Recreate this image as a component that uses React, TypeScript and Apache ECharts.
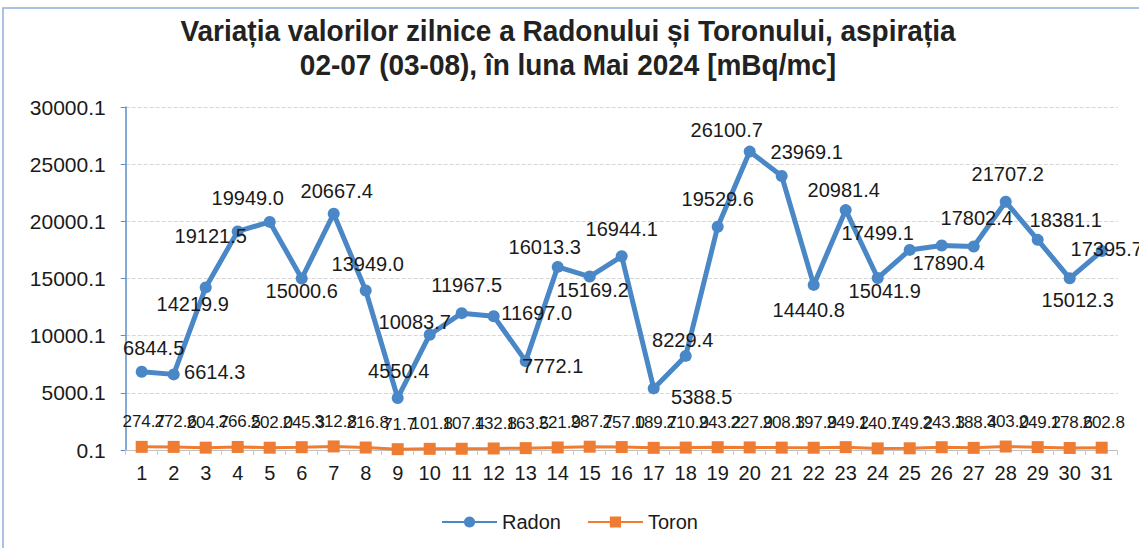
import React, { useEffect, useRef } from "react";
import * as echarts from "echarts";

const days = ["1","2","3","4","5","6","7","8","9","10","11","12","13","14","15","16","17","18","19","20","21","22","23","24","25","26","27","28","29","30","31"];

const radon = [6844.5, 6614.3, 14219.9, 19121.5, 19949.0, 15000.6, 20667.4, 13949.0, 4550.4, 10083.7, 11967.5, 11697.0, 7772.1, 16013.3, 15169.2, 16944.1, 5388.5, 8229.4, 19529.6, 26100.7, 23969.1, 14440.8, 20981.4, 15041.9, 17499.1, 17890.4, 17802.4, 21707.2, 18381.1, 15012.3, 17395.7];

const toron = [274.7, 272.6, 204.7, 266.5, 202.0, 245.3, 312.8, 216.8, 71.7, 101.8, 107.4, 132.8, 163.5, 221.9, 287.7, 257.0, 189.7, 210.9, 243.2, 227.9, 208.3, 197.9, 249.2, 140.7, 149.2, 243.3, 188.4, 303.0, 249.2, 178.6, 202.8];

// label offsets (style only) for the Radon labels, relative to each point
const radonLabelOffsets: [number, number][] = [
  [12, -24], [41, -2], [-13, 17], [-27, 5], [-22, -24], [0, 13], [3, -23], [2, -27], [1, -27], [-15, -13],
  [5, -28], [43, -3], [27, 5], [-13, -20], [3, 13], [0, -27], [48, 9], [-3, -16], [0, -28], [-23, -22],
  [25, -24], [-5, 25], [-2, -20], [7, 13], [-32, -17], [7, 18], [3, -28], [2, -28], [28, -20], [8, 22], [5, -2],
];

const TITLE_LINE_1 = "Variația valorilor zilnice a Radonului și Toronului, aspirația";
const TITLE_LINE_2 = "02-07 (03-08), în luna Mai 2024 [mBq/mc]";
const FONT = "'Liberation Sans', Arial, sans-serif";
const RADON_COLOR = "#4a87c6";
const TORON_COLOR = "#ee7d33";

export default function App() {
  const ref = useRef<HTMLDivElement>(null);
  useEffect(() => {
    if (!ref.current) return;
    const chart = echarts.init(ref.current, null, { renderer: "svg" });
    const titleStyle = {
      fill: "#222222",
      font: "bold 29px 'Liberation Sans', Arial, sans-serif",
      align: "center",
      verticalAlign: "middle",
    };
    chart.setOption({
      animation: false,
      backgroundColor: "#ffffff",
      textStyle: { fontFamily: FONT },
      graphic: [
        {
          type: "rect",
          shape: { x: 3, y: 8, width: 1160, height: 560 },
          style: { fill: "none", stroke: "#8fb0dc", lineWidth: 1.5 },
          silent: true,
        },
        {
          type: "group",
          x: 568,
          y: 0,
          scaleX: 0.965,
          silent: true,
          children: [
            { type: "text", x: 0, y: 31, style: { ...titleStyle, text: TITLE_LINE_1 } },
            { type: "text", x: 0, y: 65, style: { ...titleStyle, text: TITLE_LINE_2 } },
          ],
        },
      ],
      legend: {
        bottom: 11,
        left: "center",
        itemWidth: 55,
        itemHeight: 14,
        itemGap: 26,
        textStyle: { fontSize: 20, color: "#1a1a1a", fontFamily: FONT },
        data: ["Radon", "Toron"],
      },
      grid: { left: 125.7, right: 21.3, top: 107, bottom: 98, containLabel: false },
      xAxis: {
        type: "category",
        data: days,
        boundaryGap: true,
        axisLine: { show: true, lineStyle: { color: "#bfbfbf", width: 1 } },
        axisTick: { show: true, length: 5, lineStyle: { color: "#c8c8c8" } },
        axisLabel: { fontSize: 20, color: "#1a1a1a", margin: 13, interval: 0, fontFamily: FONT },
        splitLine: { show: false },
      },
      yAxis: {
        type: "value",
        min: 0,
        max: 30000,
        interval: 5000,
        axisLine: { show: true, lineStyle: { color: "#5b8fc9", width: 1.5 } },
        axisTick: { show: true, length: 5, lineStyle: { color: "#5b8fc9" } },
        axisLabel: {
          fontSize: 21,
          color: "#1a1a1a",
          margin: 20,
          fontFamily: FONT,
          formatter: (v: number) => (v + 0.1).toFixed(1),
        },
        splitLine: { show: true, lineStyle: { color: "#d6d6d6", type: "dashed", width: 1 } },
      },
      series: [
        {
          name: "Radon",
          type: "line",
          data: radon.map((v, i) => ({
            value: v,
            label: { offset: radonLabelOffsets[i] },
          })),
          symbol: "circle",
          symbolSize: 12,
          lineStyle: { color: RADON_COLOR, width: 5 },
          itemStyle: { color: RADON_COLOR },
          z: 3,
          label: {
            show: true,
            position: "inside",
            color: "#1a1a1a",
            fontSize: 20,
            fontFamily: FONT,
            formatter: (p: any) => Number(p.value).toFixed(1),
          },
        },
        {
          name: "Toron",
          type: "line",
          data: toron,
          symbol: "rect",
          symbolSize: 12,
          lineStyle: { color: TORON_COLOR, width: 3 },
          itemStyle: { color: TORON_COLOR },
          z: 2,
          label: {
            show: true,
            position: "inside",
            offset: [2, -25],
            color: "#1a1a1a",
            fontSize: 17,
            fontFamily: FONT,
            formatter: (p: any) => Number(p.value).toFixed(1),
          },
        },
      ],
    });
    return () => chart.dispose();
  }, []);
  return <div ref={ref} style={{ position: "absolute", left: 0, top: 0, width: 1139, height: 548 }} />;
}
